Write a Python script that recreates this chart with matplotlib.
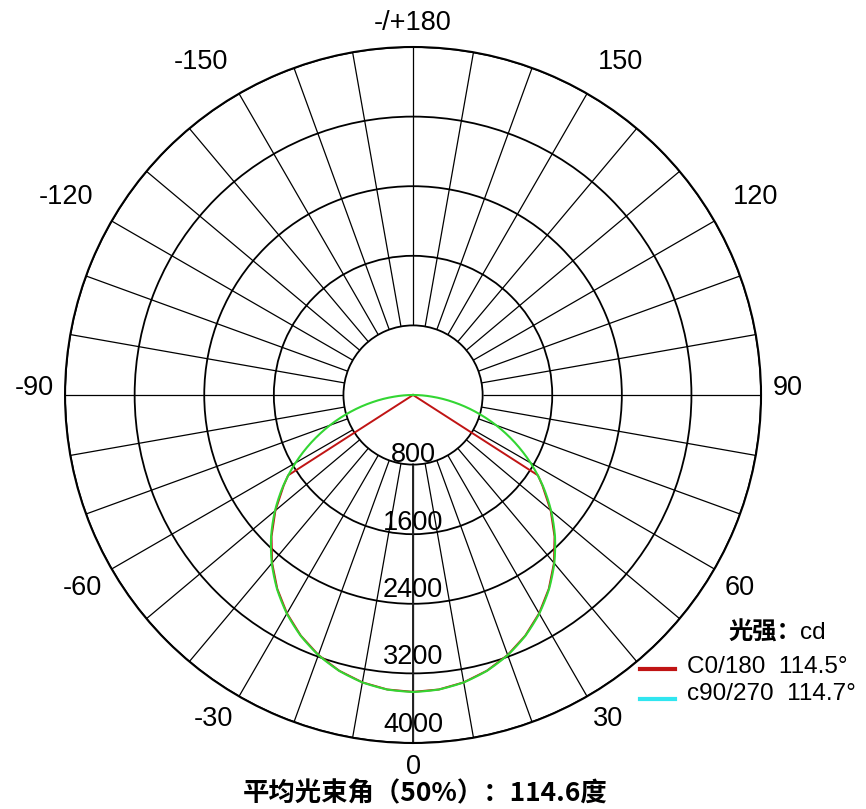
import numpy as np
import matplotlib
matplotlib.use("Agg")
import matplotlib.pyplot as plt
from matplotlib.lines import Line2D

plt.rcParams['font.family'] = ['Liberation Sans', 'Noto Sans CJK SC']

# C90/270 curve (green), every 5 degrees
c90_angles = [-90, -85, -80, -75, -70, -65, -60, -55, -50, -45, -40, -35, -30, -25, -20, -15, -10, -5,
              0, 5, 10, 15, 20, 25, 30, 35, 40, 45, 50, 55, 60, 65, 70, 75, 80, 85, 90]
c90_values = [0, 217, 472, 741, 1016, 1290, 1560, 1822, 2072, 2308, 2526, 2725, 2902, 3055, 3182, 3283, 3355, 3399,
              3414, 3399, 3355, 3283, 3182, 3055, 2902, 2725, 2526, 2308, 2072, 1822, 1560, 1290, 1016, 741, 472, 217, 0]

# C0/180 curve (red): hidden under the green one, ends at the half-intensity points
c0_angles = [-90, -57.25, -55, -50, -45, -40, -35, -30, -25, -20, -15, -10, -5,
             0, 5, 10, 15, 20, 25, 30, 35, 40, 45, 50, 55, 57.25, 90]
c0_values = [0, 1707, 1815, 2065, 2300, 2520, 2720, 2898, 3052, 3180, 3281, 3354, 3398,
             3412, 3398, 3354, 3281, 3180, 3052, 2898, 2720, 2520, 2300, 2065, 1815, 1707, 0]

ring_values = [800, 1600, 2400, 3200, 4000]
angle_ticks = [0, 30, 60, 90, 120, 150, 180, -150, -120, -90, -60, -30]
angle_labels = ['0', '30', '60', '90', '120', '150', '-/+180', '-150', '-120', '-90', '-60', '-30']

red = '#c01414'
green = '#33d633'
cyan = '#30e6f0'

fig = plt.figure(figsize=(8.66, 8.09), dpi=100)
ax = fig.add_axes([0.0751, 0.0816, 0.8037, 0.8603], projection='polar')
ax.set_theta_zero_location('S')
ax.set_theta_direction(1)
ax.set_ylim(0, 4000)

# circles from the radial grid, no angular grid
ax.set_xticks([])
ax.set_yticks(ring_values)
ax.set_yticklabels([])
ax.yaxis.grid(True, color='black', lw=1.3)
ax.spines['polar'].set_linewidth(1.5)

# spokes every 10 degrees, from the inner ring outwards
spokes = np.deg2rad(np.arange(0, 360, 10))
ax.vlines(spokes, ring_values[0], ring_values[-1], color='black', lw=0.9)
ax.vlines(0, ring_values[0], ring_values[-1], color='#222222', lw=1.4)

# curves
ax.plot(np.deg2rad(c0_angles), c0_values, color=red, lw=1.4)
g, = ax.plot(np.deg2rad(c90_angles), c90_values, color=green, lw=1.5)
g.get_path()._interpolation_steps = 12  # draw segments as smooth arcs in polar space

# ring labels along the 0 line, sitting just above each ring
for v in ring_values:
    ax.text(0, v * 0.967, str(v), ha='center', va='baseline', fontsize=19.5)

# angle labels round the outside
for a, lab in zip(angle_ticks, angle_labels):
    s = np.sin(np.deg2rad(a))
    c = np.cos(np.deg2rad(a))
    ha = 'left' if s > 0.3 else ('right' if s < -0.3 else 'center')
    va = 'top' if c > 0.3 else ('bottom' if c < -0.3 else 'baseline')
    r = 4250 if (-0.9 < c < -0.3) else 4130
    ax.text(np.deg2rad(a), r, lab, ha=ha, va=va, fontsize=19.5)

# legend
W, H = 866.0, 809.0
fig.text(728 / W, 1 - 633 / H, '光强：', ha='left', va='center', fontsize=17.5,
         weight='bold', family=['Noto Sans CJK SC'])
fig.text(800 / W, 1 - 633 / H, 'cd', ha='left', va='center', fontsize=17.5)
fig.add_artist(Line2D([640 / W, 675 / W], [1 - 669 / H] * 2, color=red, lw=3))
fig.add_artist(Line2D([640 / W, 675 / W], [1 - 699 / H] * 2, color=cyan, lw=3))
fig.text(687 / W, 1 - 667 / H, 'C0/180  114.5°', ha='left', va='center', fontsize=17.5)
fig.text(687 / W, 1 - 694 / H, 'c90/270  114.7°', ha='left', va='center', fontsize=17.5)

# bottom title
fig.text(425 / W, 1 - 794 / H, '平均光束角（50%）：114.6度', ha='center', va='center',
         fontsize=19, weight='bold', family=['Noto Sans CJK SC'])

fig.savefig('out.png', dpi=100)
